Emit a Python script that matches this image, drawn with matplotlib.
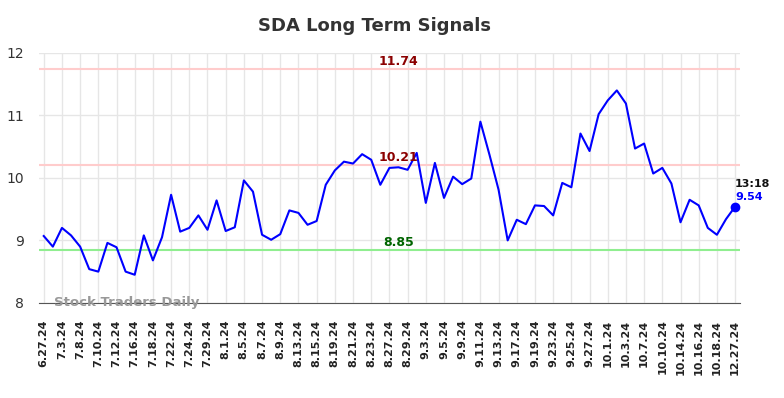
import matplotlib.pyplot as plt
import numpy as np

# Values
labels = ['6.27.24', '7.3.24', '7.8.24', '7.10.24', '7.12.24', '7.16.24', '7.18.24',
          '7.22.24', '7.24.24', '7.29.24', '8.1.24', '8.5.24', '8.7.24', '8.9.24',
          '8.13.24', '8.15.24', '8.19.24', '8.21.24', '8.23.24', '8.27.24', '8.29.24',
          '9.3.24', '9.5.24', '9.9.24', '9.11.24', '9.13.24', '9.17.24', '9.19.24',
          '9.23.24', '9.25.24', '9.27.24', '10.1.24', '10.3.24', '10.7.24', '10.10.24',
          '10.14.24', '10.16.24', '10.18.24', '12.27.24']

prices = [9.07, 8.90, 9.20, 9.08, 8.90, 8.54, 8.50, 8.96, 8.89, 8.50,
          8.45, 9.08, 8.68, 9.05, 9.73, 9.14, 9.20, 9.40, 9.17, 9.64,
          9.15, 9.21, 9.96, 9.78, 9.09, 9.01, 9.10, 9.48, 9.44, 9.25,
          9.31, 9.89, 10.12, 10.26, 10.23, 10.38, 10.29, 9.89, 10.16, 10.17,
          10.13, 10.40, 9.60, 10.24, 9.68, 10.02, 9.90, 9.99, 10.90, 10.37,
          9.81, 9.00, 9.33, 9.26, 9.56, 9.55, 9.40, 9.92, 9.85, 10.71,
          10.43, 11.02, 11.24, 11.40, 11.19, 10.47, 10.55, 10.07, 10.16, 9.91,
          9.29, 9.65, 9.56, 9.20, 9.09, 9.34, 9.54]

upper = 11.74
middle = 10.21
lower = 8.85
last_time = '13:18'

x = np.arange(len(prices))
tick_pos = x[::2]

fig = plt.figure(figsize=(7.84, 3.98), dpi=100)
ax = fig.add_axes([0.050, 0.239, 0.894, 0.628])

#Reference lines
ax.axhline(upper, color='#ffcccc', lw=1.5, zorder=1)
ax.axhline(middle, color='#ffcccc', lw=1.5, zorder=1)
ax.axhline(lower, color='#90ee90', lw=1.5, zorder=1)

ax.plot(x, prices, color='#0000ff', lw=1.5, zorder=3)
ax.plot(x[-1], prices[-1], 'o', color='#0000ff', ms=6, zorder=4)

xmid = 39
ax.text(xmid, upper + 0.12, f'{upper:.2f}', color='#8b0000', fontsize=9,
        fontweight='bold', ha='center', va='center', zorder=5)
ax.text(xmid, middle + 0.12, f'{middle:.2f}', color='#8b0000', fontsize=9,
        fontweight='bold', ha='center', va='center', zorder=5)
ax.text(xmid, lower + 0.12, f'{lower:.2f}', color='#006400', fontsize=9,
        fontweight='bold', ha='center', va='center', zorder=5)

ax.text(x[-1], prices[-1] + 0.37, last_time, color='#111111', fontsize=8,
        fontweight='bold', ha='left', va='center')
ax.text(x[-1], prices[-1] + 0.16, f'{prices[-1]:.2f}', color='#0000ff', fontsize=8,
        fontweight='bold', ha='left', va='center')

ax.text(1.1, 8.0, 'Stock Traders Daily', color='#999999', fontsize=9.5,
        fontweight='bold', ha='left', va='center', zorder=6)

ax.set_xlim(-0.5, 76.55)
ax.set_ylim(8, 12)
ax.set_yticks([8, 9, 10, 11, 12])
ax.set_xticks(tick_pos)
ax.set_xticklabels(labels, rotation=90, fontsize=8, fontweight='bold', color='#222222')
ax.tick_params(axis='y', length=0, labelsize=10, colors='#333333', pad=11)
ax.tick_params(axis='x', length=0, pad=12)
ax.grid(True, color='#e6e6e6', lw=1)
ax.set_axisbelow(True)
for s in ['top', 'right', 'left']:
    ax.spines[s].set_visible(False)
ax.spines['bottom'].set_color('#555555')

fig.text(0.478, 0.935, 'SDA Long Term Signals', fontsize=13, fontweight='bold',
         color='#333333', ha='center', va='center')

plt.savefig('out.png', dpi=100)
